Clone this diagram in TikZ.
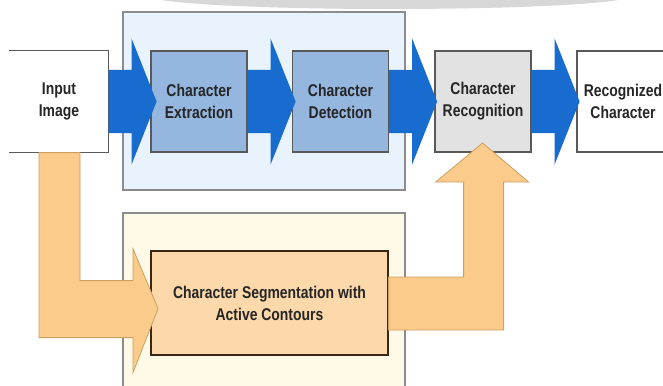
\documentclass[tikz,border=0pt]{standalone}
\usepackage{fontspec}
\newfontfamily\boxfont[FakeStretch=0.82]{Liberation Sans}

\definecolor{arrblue}{RGB}{24,108,208}
\definecolor{boxblue}{RGB}{149,182,222}
\definecolor{bgblue}{RGB}{232,243,253}
\definecolor{recgray}{RGB}{226,226,226}
\definecolor{arrorange}{RGB}{250,203,138}
\definecolor{arredge}{RGB}{205,160,95}
\definecolor{segorange}{RGB}{252,216,170}
\definecolor{bgcream}{RGB}{255,249,232}
\definecolor{topgray}{RGB}{215,215,215}

\begin{document}
\begin{tikzpicture}[x=0.5pt,y=-0.5pt,
    box/.style={draw=black!65, line width=0.6pt, minimum width=48pt, minimum height=50.5pt,
      inner sep=1pt, align=center, text=black!85,
      font={\boxfont\bfseries\fontsize{8.5}{11}\selectfont}},
    bgline/.style={draw=black!45, line width=0.6pt},
    bluearrow/.style={fill=arrblue},
    orangearrow/.style={fill=arrorange, draw=arredge, line width=0.4pt}]
  \clip (0,0) rectangle (663,385);
  \fill[white] (0,0) rectangle (663,385);
  \fill[topgray] (390,-4) ellipse [x radius=120pt, y radius=6.5pt];

  % group frames
  \draw[bgline, fill=bgblue] (123,12) rectangle (405,190);
  \draw[bgline, fill=bgcream] (123,213) rectangle (405,400);

  % main row
  \node[box, draw=none, fill=white, minimum width=49pt] (inp) at (59,101.5) {Input\\Image};
  \draw[draw=black!65, line width=0.6pt] (inp.north west) -- (inp.north east) -- (inp.south east) -- (inp.south west);
  \node[box, fill=boxblue] (ext) at (199,101.5) {Character\\Extraction};
  \node[box, fill=boxblue] (det) at (340.5,101.5) {Character\\Detection};
  \node[box, fill=recgray] (rec) at (483,101.5) {Character\\Recognition};
  \node[box, fill=white, minimum width=46pt] (out) at (623,101.5) {Recognized\\Character};

  \node[box, fill=segorange, draw=black!70!brown, minimum width=118.5pt, minimum height=52pt] (seg) at (269.5,303)
    {Character Segmentation with\\Active Contours};

  % block arrows
  \foreach \a in {inp,ext,det,rec}
    \fill[bluearrow, shift={(\a.east)}] (0,-31.5) -- (23,-31.5) -- (23,-63) -- (48,0) -- (23,63) -- (23,31.5) -- (0,31.5) -- cycle;

  \filldraw[orangearrow, shift={(inp.south)}] (-20,0) -- (-20,185) -- (74,185) -- (74,220) -- (99,156)
    -- (74,96) -- (74,128) -- (21,128) -- (21,0) -- cycle;
  \filldraw[orangearrow, shift={(seg.east)}] (0,-26) -- (75,-26) -- (75,-121) -- (47,-121) -- (94,-160)
    -- (140,-121) -- (115,-121) -- (115,27) -- (0,27) -- cycle;
\end{tikzpicture}
\end{document}
